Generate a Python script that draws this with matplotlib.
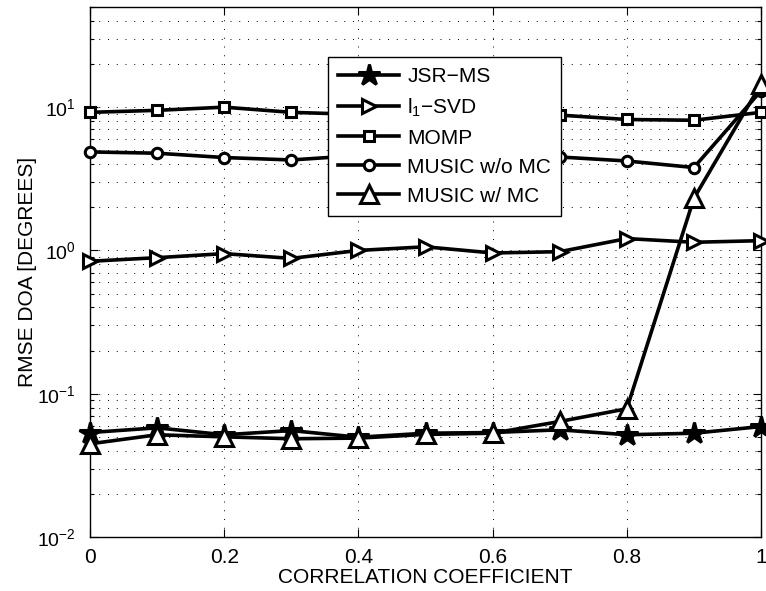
import matplotlib
matplotlib.use("Agg")
import matplotlib.pyplot as plt
from matplotlib.ticker import FixedLocator, LogLocator, NullFormatter, FixedFormatter

plt.rcParams['font.family'] = ['Liberation Sans', 'DejaVu Sans']
plt.rcParams['mathtext.fontset'] = 'custom'
plt.rcParams['mathtext.rm'] = 'Liberation Sans'
plt.rcParams['mathtext.it'] = 'Liberation Sans'

# correlation coefficient sweep
rho = [0.0, 0.1, 0.2, 0.3, 0.4, 0.5, 0.6, 0.7, 0.8, 0.9, 1.0]

# RMSE of DOA estimates in degrees
jsr_ms = [0.0536, 0.0578, 0.0517, 0.0553, 0.0497, 0.0530, 0.0536, 0.0560, 0.0517, 0.0530, 0.0590]
l1_svd = [0.84, 0.89, 0.95, 0.88, 1.00, 1.06, 0.96, 0.98, 1.21, 1.14, 1.17]
momp = [9.2, 9.5, 10.0, 9.2, 8.9, 9.0, 8.9, 8.8, 8.2, 8.1, 9.2]
music_wo_mc = [4.87, 4.77, 4.45, 4.28, 4.60, 4.70, 4.60, 4.49, 4.21, 3.79, 13.0]
music_w_mc = [0.0447, 0.0517, 0.0500, 0.0485, 0.0490, 0.0520, 0.0530, 0.0640, 0.0785, 2.31, 14.5]

series_labels = ['JSR\u2212MS', '$\\mathregular{l_1}$\u2212SVD', 'MOMP', 'MUSIC w/o MC', 'MUSIC w/ MC']
x_ticks = [0, 0.2, 0.4, 0.6, 0.8, 1.0]
x_tick_labels = ['0', '0.2', '0.4', '0.6', '0.8', '1']
y_ticks = [1e-2, 1e-1, 1e0, 1e1]
y_tick_labels = ['$\\mathregular{10^{-2}}$', '$\\mathregular{10^{-1}}$',
                 '$\\mathregular{10^{0}}$', '$\\mathregular{10^{1}}$']

FS = 15

fig = plt.figure(figsize=(7.66, 5.91), dpi=100)
ax = fig.add_axes([90 / 766, 54 / 591, 671 / 766, 530 / 591])

lw = 2.6
common = dict(color='black', linewidth=lw, markeredgecolor='black', markeredgewidth=2.2,
              clip_on=False, zorder=3)
ax.plot(rho, jsr_ms, marker='*', markersize=16, markerfacecolor='black', label=series_labels[0], **common)
ax.plot(rho, l1_svd, marker='>', markersize=10, markerfacecolor='white', label=series_labels[1], **common)
ax.plot(rho, momp, marker='s', markersize=7, markerfacecolor='white', label=series_labels[2], **common)
ax.plot(rho, music_wo_mc, marker='o', markersize=7.5, markerfacecolor='white', label=series_labels[3], **common)
ax.plot(rho, music_w_mc, marker='^', markersize=13, markerfacecolor='white', label=series_labels[4], **common)

ax.set_yscale('log')
ax.set_xlim(0, 1)
ax.set_ylim(1e-2, 50)

ax.xaxis.set_major_locator(FixedLocator(x_ticks))
ax.xaxis.set_major_formatter(FixedFormatter(x_tick_labels))
ax.yaxis.set_major_locator(FixedLocator(y_ticks))
ax.yaxis.set_major_formatter(FixedFormatter(y_tick_labels))
ax.yaxis.set_minor_locator(LogLocator(base=10, subs=range(2, 10), numticks=20))
ax.yaxis.set_minor_formatter(NullFormatter())

ax.tick_params(which='both', direction='in', top=True, right=True)
ax.tick_params(axis='x', pad=8, labelsize=FS)
ax.tick_params(axis='y', pad=10, labelsize=14)
ax.tick_params(which='major', length=6, width=0.8)
ax.tick_params(which='minor', length=3, width=0.8)

ax.grid(True, which='major', axis='both', linestyle=(0, (1, 8)), color='black', linewidth=0.7)
ax.grid(True, which='minor', axis='y', linestyle=(0, (1, 8)), color='black', linewidth=0.7)

for s in ax.spines.values():
    s.set_linewidth(1.0)

ax.set_xlabel('CORRELATION COEFFICIENT', fontsize=FS)
ax.set_ylabel('RMSE DOA [DEGREES]', fontsize=FS)
ax.xaxis.set_label_coords(0.5, -(568 - 537) / 530)
ax.yaxis.set_label_coords(-(90 - 37) / 671, 0.5)

leg = ax.legend(loc='upper left', bbox_to_anchor=((328 - 90) / 671, (537 - 57) / 530), fontsize=FS,
                frameon=True, fancybox=False, framealpha=1, edgecolor='black',
                handlelength=2.9, handletextpad=0.4, labelspacing=0.48,
                borderpad=0.5, borderaxespad=0)
leg.get_frame().set_linewidth(1.0)
leg.set_zorder(5)

fig.savefig('out.png', dpi=100)
